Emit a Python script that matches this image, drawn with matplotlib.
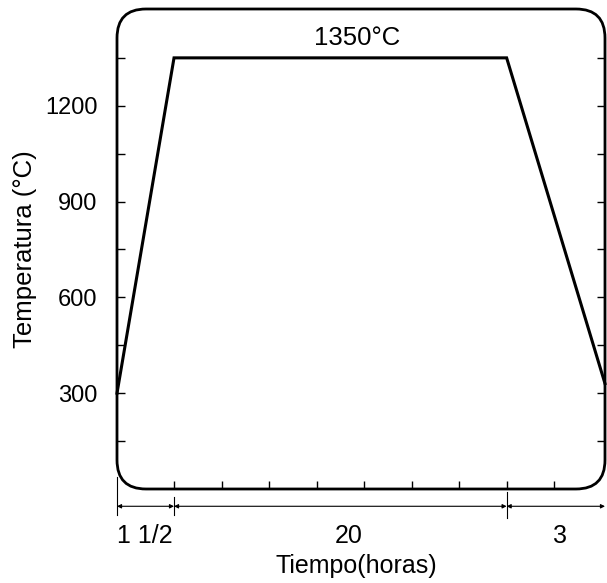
import matplotlib.pyplot as plt
from matplotlib.patches import FancyBboxPatch

plt.rcParams['font.family'] = ['Liberation Sans', 'DejaVu Sans']

# schematic time axis: 1 1/2 h heating, 20 h hold, 3 h cooling
seg_edges = [0, 1.2, 8.2, 10.27]
seg_labels = ["1 1/2", "20", "3"]
seg_label_x = [0.59, 4.88, 9.33]

profile_x = [0, 1.2, 8.2, 10.27]
profile_T = [300, 1350, 1350, 330]

y_ticks = [150, 300, 450, 600, 750, 900, 1050, 1200, 1350]
y_ticklabels = ["", "300", "", "600", "", "900", "", "1200", ""]
x_ticks = [1.2, 2.2, 3.2, 4.2, 5.2, 6.2, 7.2, 8.2, 9.2]

fig = plt.figure(figsize=(6.07, 5.83), dpi=100)
W, H = 488, 480
ax = fig.add_axes([117 / 607, 1 - 489 / 583, W / 607, H / 583])
ax.set_xlim(0, 10.27)
ax.set_ylim(0, 1503)
for s in ax.spines.values():
    s.set_visible(False)

# rounded frame
r = 29 / W
frame = FancyBboxPatch((0, 0), 1, 1, boxstyle=f"round,pad=0,rounding_size={r}",
                       transform=ax.transAxes, mutation_aspect=W / H,
                       fill=False, lw=2, ec='black', clip_on=False)
ax.add_patch(frame)

ax.plot(profile_x, profile_T, color='black', lw=2.2, clip_on=False,
        solid_joinstyle='miter')
ax.text(5.05, 1412, "1350°C", ha='center', va='center', fontsize=18.5)

ax.set_yticks(y_ticks)
ax.set_yticklabels(y_ticklabels)
ax.tick_params(axis='y', direction='in', length=6, width=1, labelsize=17,
               pad=14, right=True)
ax.set_xticks(x_ticks)
ax.set_xticklabels([])
ax.tick_params(axis='x', direction='in', length=6, width=1)

ax.set_ylabel("Temperatura (°C)", fontsize=18.5, labelpad=6)

# dimension line under the axis
tr = ax.get_xaxis_transform()
ydim = -0.036
for i in range(len(seg_labels)):
    ax.annotate("", xy=(seg_edges[i], ydim), xytext=(seg_edges[i + 1], ydim),
                xycoords=tr, textcoords=tr,
                arrowprops=dict(arrowstyle='<|-|>', lw=0.8, color='black',
                                mutation_scale=6, shrinkA=0, shrinkB=0))
    ax.text(seg_label_x[i], -0.098, seg_labels[i], transform=tr,
            ha='center', va='center', fontsize=18)
sep_y = [(0.025, -0.054), (-0.017, -0.054), (-0.006, -0.06)]
for xe, (y0, y1) in zip(seg_edges[:3], sep_y):
    ax.plot([xe, xe], [y0, y1], transform=tr, color='black', lw=0.8,
            clip_on=False)

ax.text(0.49, -0.16, "Tiempo(horas)", transform=ax.transAxes,
        ha='center', va='center', fontsize=18)

fig.savefig("out.png", dpi=100)
